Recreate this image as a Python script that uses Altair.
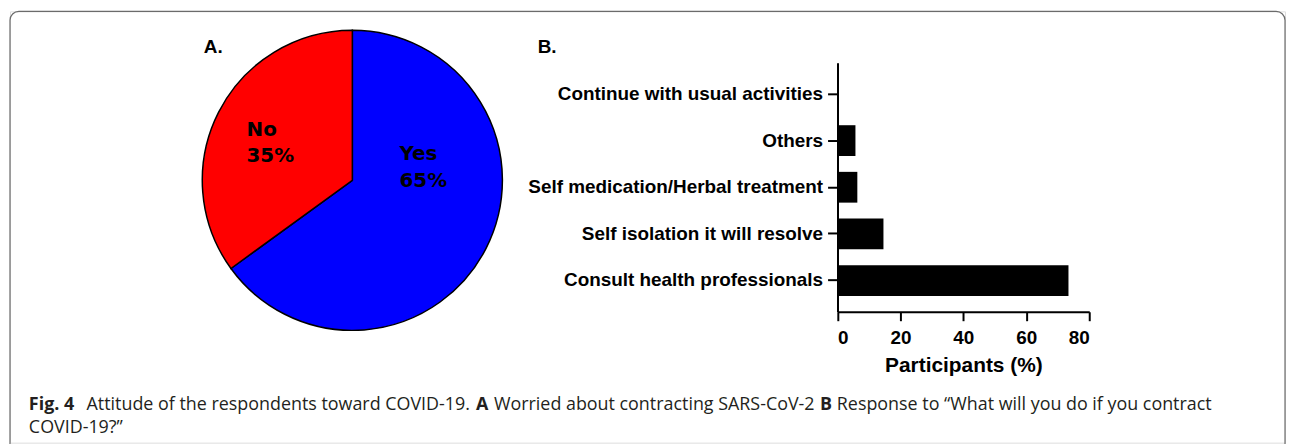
import altair as alt
import pandas as pd

# ---- data ----
pie_answers = ["Yes", "No"]
pie_percent = [65, 35]
pie_colors = ["#0000FF", "#FF0000"]

responses = [
    "Continue with usual activities",
    "Others",
    "Self medication/Herbal treatment",
    "Self isolation it will resolve",
    "Consult health professionals",
]
participants = [0, 5.7, 6.3, 14.6, 73.4]
x_ticks = [0, 20, 40, 60, 80]

caption_segments = [
    ("Fig. 4", "bold"),
    ("Attitude of the respondents toward COVID-19.", "normal"),
    ("A", "bold"),
    ("Worried about contracting SARS-CoV-2", "normal"),
    ("B", "bold"),
    ("Response to \u201cWhat will you do if you contract", "normal"),
]
caption_line2 = "COVID-19?\u201d"

# ---- layout constants (pixels in view coordinates) ----
W, H = 1283, 434
PIE_CX, PIE_CY, PIE_R = 344.5, 170, 151
BAR_X0, BAR_X1 = 832.7, 1086.0
BAR_Y0, BAR_Y1 = 51.7, 302.3
FONT = "Liberation Sans"
CAP_FONT = "Open Sans"
CAP_SIZE = 18
cap_x = [19, 77, 469, 487, 815, 832]
CAP_Y1, CAP_Y2 = 401, 424

one = pd.DataFrame({"k": [0]})

border = alt.Chart(one).mark_rect(
    fillOpacity=0, stroke="#6b6b6b", strokeWidth=1.2, cornerRadius=9
).encode(x=alt.value(0), x2=alt.value(W), y=alt.value(0), y2=alt.value(H + 40))

pie_df = pd.DataFrame({"answer": pie_answers, "pct": pie_percent, "ord": list(range(len(pie_answers)))})
pie_df["label"] = pie_df["answer"] + "\n" + pie_df["pct"].astype(str) + "%"

pie = alt.Chart(pie_df).mark_arc(outerRadius=PIE_R, stroke="black", strokeWidth=1.5).encode(
    theta=alt.Theta("pct:Q", stack=True),
    color=alt.Color("answer:N", scale=alt.Scale(domain=pie_answers, range=pie_colors), legend=None),
    order=alt.Order("ord:Q"),
    x=alt.value(PIE_CX),
    y=alt.value(PIE_CY),
)

def pie_label(ans, x, y):
    return alt.Chart(pie_df).transform_filter(alt.datum.answer == ans).mark_text(
        font="DejaVu Sans", fontWeight="bold", fontSize=20, align="left",
        baseline="alphabetic", lineBreak="\n", lineHeight=27, color="black"
    ).encode(text="label:N", x=alt.value(x), y=alt.value(y))

lab_no = pie_label("No", 238, 125)
lab_yes = pie_label("Yes", 392, 150)

panel_a = alt.Chart(one).mark_text(
    text="A.", font=FONT, fontWeight="bold", fontSize=19, align="left", baseline="alphabetic"
).encode(x=alt.value(195), y=alt.value(42))
panel_b = alt.Chart(one).mark_text(
    text="B.", font=FONT, fontWeight="bold", fontSize=19, align="left", baseline="alphabetic"
).encode(x=alt.value(531), y=alt.value(42))

bar_df = pd.DataFrame({"response": responses, "pct": participants})
bars = alt.Chart(bar_df).mark_bar(color="black").encode(
    x=alt.X(
        "pct:Q",
        scale=alt.Scale(domain=[0, 80], range=[BAR_X0, BAR_X1], nice=False, zero=True),
        axis=alt.Axis(
            values=x_ticks, title="Participants (%)", offset=BAR_Y1 - H, grid=False,
            domainColor="black", domainWidth=2, tickColor="black", tickWidth=2, tickSize=9,
            labelFont=FONT, labelFontWeight="bold", labelFontSize=19, labelColor="black",
            labelPadding=8, titleFont=FONT, titleFontWeight="bold", titleFontSize=21,
            titleColor="black", titlePadding=7,
        ),
    ),
    y=alt.Y(
        "response:N",
        sort=responses,
        scale=alt.Scale(range=[BAR_Y0, BAR_Y1], paddingInner=0.34, paddingOuter=0.34),
        axis=alt.Axis(
            title=None, offset=-BAR_X0, grid=False, domainColor="black", domainWidth=2,
            tickColor="black", tickWidth=2, tickSize=10, labelFont=FONT,
            labelFontWeight="bold", labelFontSize=19, labelColor="black",
            labelPadding=5, labelLimit=500,
        ),
    ),
)

cap_layers = []
for (txt, wt), cx in zip(caption_segments, cap_x):
    cap_layers.append(
        alt.Chart(one).mark_text(
            text=txt, font=CAP_FONT, fontWeight=wt, fontSize=CAP_SIZE, align="left",
            baseline="alphabetic", color="#231f20"
        ).encode(x=alt.value(cx), y=alt.value(CAP_Y1))
    )
cap_layers.append(
    alt.Chart(one).mark_text(
        text=caption_line2, font=CAP_FONT, fontSize=CAP_SIZE, align="left",
        baseline="alphabetic", color="#231f20"
    ).encode(x=alt.value(cap_x[0]), y=alt.value(CAP_Y2))
)

chart = alt.layer(
    border, pie, lab_no, lab_yes, panel_a, panel_b, bars, *cap_layers
).properties(
    width=W, height=H,
    autosize=alt.AutoSizeParams(type="none"),
    padding={"left": 2, "top": 2, "right": 2, "bottom": 0},
).configure_view(stroke=None).configure(background="white")

chart.save("out.html", embed_options={"renderer": "svg", "actions": False})
